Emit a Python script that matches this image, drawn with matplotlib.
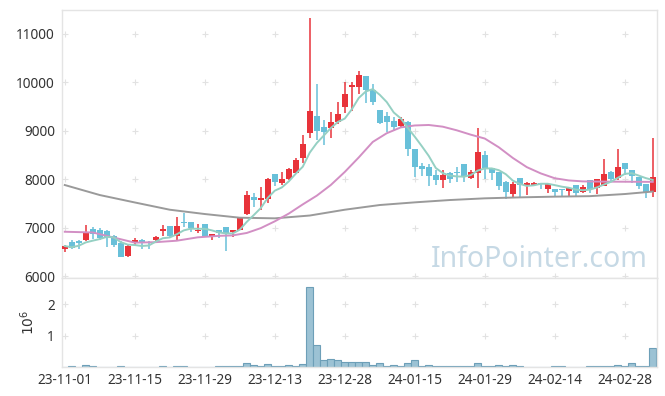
import numpy as np
import pandas as pd
import matplotlib
matplotlib.use("Agg")
import matplotlib.pyplot as plt

plt.rcParams["font.family"] = ["Noto Sans", "DejaVu Sans"]

# daily OHLC (trading days, 23-11-01 .. 24-03-05)
opens = [6550, 6700, 6730, 6745, 6965, 6945, 6930, 6835, 6690, 6410,
         6690, 6745, 6700, 6750, 6930, 7030, 6830, 7120, 7120, 6925,
         7075, 6826, 6950, 7005, 6900, 6950, 7280, 7630, 7570, 7600,
         8105, 7920, 8000, 8135, 8445, 8950, 9305, 9085, 9050, 9190,
         9485, 9900, 9910, 10130, 9845, 9430, 9305, 9205, 9100, 9190,
         8620, 8280, 8245, 8090, 7985, 8135, 8155, 8315, 8030, 8120,
         8500, 8225, 8150, 7950, 7695, 8020, 7880, 7885, 7915, 7800,
         7800, 7780, 7765, 7880, 7740, 7985, 7810, 7865, 8155, 8020,
         8340, 8190, 8040, 7900, 7740]
highs = [6640, 6740, 6740, 7045, 7010, 7000, 6945, 6840, 6720, 6660,
         6780, 6770, 6730, 6820, 7045, 7035, 7210, 7310, 7125, 7070,
         7080, 6870, 6955, 7010, 6955, 7225, 7765, 7720, 7830, 8025,
         8110, 8155, 8240, 8440, 8905, 11325, 9965, 9225, 9390, 9600,
         10010, 10010, 10235, 10135, 9965, 9435, 9395, 9280, 9290, 9195,
         8625, 8340, 8315, 8190, 8200, 8155, 8245, 8320, 8190, 9050,
         8585, 8230, 8155, 7955, 7950, 8025, 7950, 7940, 7930, 7905,
         7805, 7785, 7815, 7885, 7880, 7990, 8000, 8410, 8160, 8615,
         8345, 8195, 8045, 7905, 8845]
lows = [6490, 6550, 6550, 6730, 6760, 6740, 6600, 6600, 6390, 6390,
        6650, 6560, 6560, 6700, 6830, 6800, 6720, 7020, 6920, 6880,
        6820, 6745, 6780, 6520, 6800, 6945, 7270, 7420, 7365, 7500,
        7865, 7880, 7990, 8130, 8330, 8850, 8810, 8705, 8845, 9140,
        9360, 9415, 9760, 9570, 9535, 9140, 8980, 9005, 9080, 8480,
        8050, 8070, 7860, 7880, 7810, 7930, 7950, 7950, 8000, 7810,
        8000, 7985, 7775, 7585, 7605, 7625, 7675, 7880, 7790, 7710,
        7660, 7645, 7655, 7625, 7710, 7720, 7695, 7850, 7950, 7985,
        8085, 7915, 7790, 7605, 7625]
closes = [6620, 6570, 6690, 6900, 6875, 6785, 6800, 6640, 6400, 6620,
          6745, 6700, 6690, 6805, 6965, 6826, 7030, 7090, 6985, 6950,
          6826, 6868, 6880, 6880, 6950, 7210, 7675, 7580, 7605, 8005,
          7950, 8005, 8210, 8400, 8725, 9410, 8990, 8980, 9175, 9355,
          9760, 9940, 10160, 9845, 9600, 9170, 9190, 9085, 9235, 8620,
          8260, 8220, 8070, 7990, 8090, 8005, 8135, 8040, 8155, 8560,
          8225, 8135, 7860, 7740, 7900, 7880, 7930, 7920, 7900, 7900,
          7740, 7770, 7810, 7710, 7830, 7800, 7995, 8105, 8000, 8245,
          8205, 8065, 7860, 7740, 8050]
# volume, millions of shares
volumes = [0.0, 0.02, 0.0, 0.063, 0.02, 0.0, 0.0, 0.0, 0.02, 0.0,
           0.0, 0.0, 0.0, 0.0, 0.02, 0.0, 0.02, 0.02, 0.0, 0.0,
           0.0, 0.0, 0.02, 0.02, 0.02, 0.02, 0.116, 0.06, 0.02, 0.084,
           0.02, 0.02, 0.05, 0.02, 0.084, 2.555, 0.715, 0.22, 0.27, 0.22,
           0.16, 0.16, 0.16, 0.16, 0.05, 0.116, 0.02, 0.05, 0.02, 0.116,
           0.22, 0.02, 0.05, 0.02, 0.02, 0.02, 0.02, 0.02, 0.02, 0.116,
           0.02, 0.02, 0.05, 0.02, 0.05, 0.02, 0.0, 0.0, 0.0, 0.0,
           0.02, 0.02, 0.0, 0.0, 0.0, 0.02, 0.02, 0.02, 0.02, 0.05,
           0.02, 0.116, 0.02, 0.02, 0.62]

# moving averages (day index -> price)
ma20_days = [0, 4, 8, 10, 13, 16, 19, 22, 24, 26, 28, 30, 32, 34, 36, 38, 40, 42,
             44, 46, 48, 50, 52, 54, 56, 58, 60, 62, 64, 66, 68, 70, 72, 74, 77, 80, 84]
ma20_vals = [6915, 6900, 6760, 6690, 6700, 6730, 6800, 6830, 6840, 6890, 6990, 7130,
             7290, 7480, 7660, 7880, 8150, 8450, 8770, 8950, 9070, 9110, 9120, 9085,
             9010, 8920, 8840, 8660, 8440, 8250, 8120, 8020, 7975, 7955, 7950, 7948, 7945]
ma120_days = [0, 5, 10, 15, 20, 25, 30, 35, 40, 45, 50, 55, 60, 65, 70, 75, 80, 84]
ma120_vals = [7880, 7673, 7520, 7370, 7281, 7205, 7192, 7250, 7370, 7467, 7522,
              7570, 7605, 7625, 7640, 7650, 7694, 7745]

tick_days = [0, 10, 20, 30, 40, 50, 60, 70, 80]
tick_labels = ["23-11-01", "23-11-15", "23-11-29", "23-12-13", "23-12-28",
               "24-01-15", "24-01-29", "24-02-14", "24-02-28"]

df = pd.DataFrame({"o": opens, "h": highs, "l": lows, "c": closes, "v": volumes})
df["ma5"] = df["c"].rolling(5, min_periods=1).mean()
x = np.arange(len(df))

UP, DOWN = "#e8333a", "#68c0d9"
GRID = "#e2e2e2"
SPINE = "#e4e4e4"
TXT = "#333333"

fig = plt.figure(figsize=(6.65, 3.96), dpi=100)
ax = fig.add_axes([0.0932, 0.298, 0.8947, 0.6768])
axv = fig.add_axes([0.0932, 0.0732, 0.8947, 0.2248], sharex=ax)

up = df["c"] >= df["o"]
cols = np.where(up, UP, DOWN)
body_lo = np.minimum(df["o"], df["c"])
body_h = np.maximum((df["c"] - df["o"]).abs(), 20)

ax.vlines(x, df["l"], df["h"], colors=cols, linewidth=1.1, zorder=2)
ax.bar(x, body_h, bottom=body_lo, width=0.8, color=cols, linewidth=0, zorder=3)

ax.plot(ma120_days, ma120_vals, color="#9a9a9a", lw=1.4, zorder=4)
ax.plot(ma20_days, ma20_vals, color="#d28fc4", lw=1.4, zorder=4)
ax.plot(x, df["ma5"], color="#95d0c3", lw=1.4, zorder=4)

ax.set_xlim(-0.4, 84.6)
ax.set_ylim(5960, 11495)
yt = [6000, 7000, 8000, 9000, 10000, 11000]
ax.set_yticks(yt)
ax.set_yticklabels([str(v) for v in yt])
gx, gy = np.meshgrid(tick_days, yt)
ax.plot(gx.ravel(), gy.ravel(), "+", color=GRID, ms=4, mew=0.8, zorder=1)

ax.text(0.985, 0.04, "InfoPointer.com", transform=ax.transAxes, ha="right",
        va="baseline", fontsize=20.5, color="#c6d9e5", zorder=0)

# volume panel
axv.bar(x, df["v"], width=1.0, color="#9cc2d4", edgecolor="#6d9fb8",
        linewidth=0.8, zorder=2)
axv.set_ylim(0, 2.83)
axv.set_yticks([1, 2])
axv.set_yticklabels(["1", "2"])
vx, vy = np.meshgrid(tick_days, [1, 2])
axv.plot(vx.ravel(), vy.ravel(), "+", color=GRID, ms=4, mew=0.8, zorder=1)
axv.set_ylabel(r"$10^6$", color=TXT, fontsize=10)
axv.yaxis.set_label_coords(-0.04, 0.5)

axv.set_xticks(tick_days)
axv.set_xticklabels(tick_labels)
plt.setp(ax.get_xticklabels(), visible=False)

for a in (ax, axv):
    for s in a.spines.values():
        s.set_color(SPINE)
        s.set_linewidth(1.0)
    a.tick_params(length=0, labelsize=9.8, colors=TXT)
    a.tick_params(axis="y", pad=5)
    a.tick_params(axis="x", pad=4)
    a.set_facecolor("white")

fig.savefig("out.png", dpi=100)
